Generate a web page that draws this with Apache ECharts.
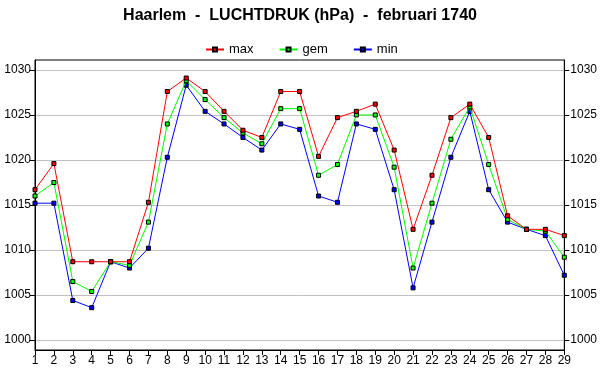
<!DOCTYPE html>
<html><head><meta charset="utf-8">
<script src="https://cdn.jsdelivr.net/npm/echarts@6/dist/echarts.min.js"></script>
<style>html,body{margin:0;padding:0;background:#fff}#c{width:600px;height:390px}</style>
</head><body><div id="c"></div>
<script>
const days = ['1','2','3','4','5','6','7','8','9','10','11','12','13','14','15','16','17','18','19','20','21','22','23','24','25','26','27','28','29'];
const maxVals = [1016.7,1019.6,1008.7,1008.7,1008.7,1008.7,1015.3,1027.6,1029.1,1027.6,1025.4,1023.3,1022.5,1027.6,1027.6,1020.4,1024.7,1025.4,1026.2,1021.1,1012.3,1018.3,1024.7,1026.2,1022.5,1013.8,1012.3,1012.3,1011.6];
const gemVals = [1016.0,1017.5,1006.5,1005.4,1008.7,1008.3,1013.1,1024.0,1028.8,1026.7,1024.7,1023.0,1021.8,1025.7,1025.7,1018.3,1019.5,1025.0,1025.0,1019.2,1008.0,1015.2,1022.3,1025.9,1019.5,1013.4,1012.3,1012.1,1009.2];
const minVals = [1015.2,1015.2,1004.4,1003.6,1008.7,1008.0,1010.2,1020.3,1028.3,1025.4,1024.0,1022.5,1021.1,1024.0,1023.4,1016.0,1015.3,1024.0,1023.4,1016.7,1005.8,1013.1,1020.3,1025.4,1016.7,1013.1,1012.3,1011.6,1007.2];
const yTicks = [1000,1005,1010,1015,1020,1025,1030];
const seriesNames = ['max','gem','min'];
const seriesColors = ['#ff0000','#00ff00','#0000ff'];

const font = 'Liberation Sans, Arial, sans-serif';
const chart = echarts.init(document.getElementById('c'));
function yAxis(pos, margin, split) {
  return {
    type: 'value', position: pos, min: 998.9, max: 1031.1,
    axisLine: {show: true, lineStyle: {color: '#000', width: 1}},
    axisTick: {show: true, length: 5, inside: false, customValues: yTicks, lineStyle: {color: '#000'}},
    axisLabel: {customValues: yTicks, margin: margin, color: '#000', fontSize: 12, fontFamily: font,
      formatter: v => String(Math.round(v))},
    splitLine: {show: split, lineStyle: {color: '#c0c0c0', width: 1}}
  };
}
const data = [maxVals, gemVals, minVals];
const series = seriesNames.map((n, i) => ({
  name: n, type: 'line', data: data[i], symbol: 'rect', symbolSize: 4,
  z: 4 - i,
  lineStyle: {color: seriesColors[i], width: 1},
  itemStyle: {color: seriesColors[i], borderColor: '#000', borderWidth: 1},
  emphasis: {disabled: true}, animation: false
}));
chart.setOption({
  animation: false,
  backgroundColor: '#fff',
  title: {text: 'Haarlem  -  LUCHTDRUK (hPa)  -  februari 1740', left: 'center', top: 3,
    textStyle: {fontSize: 16, fontWeight: 'bold', color: '#000', fontFamily: font}},
  legend: {data: seriesNames, top: 38, left: 200, itemWidth: 18, itemHeight: 5, itemGap: 25,
    textStyle: {fontSize: 13, color: '#000', fontFamily: font}},
  grid: {left: 35, right: 35, top: 60, bottom: 40, show: true, borderColor: '#000', borderWidth: 1},
  xAxis: {type: 'category', data: days, boundaryGap: false,
    axisLine: {lineStyle: {color: '#000'}},
    axisTick: {length: 5, lineStyle: {color: '#000'}, interval: 0},
    axisLabel: {interval: 0, margin: 5, color: '#000', fontSize: 12, fontFamily: font},
    splitLine: {show: false}},
  yAxis: [yAxis('left', 4, true), yAxis('right', 6, false)],
  series: series
});
</script></body></html>
